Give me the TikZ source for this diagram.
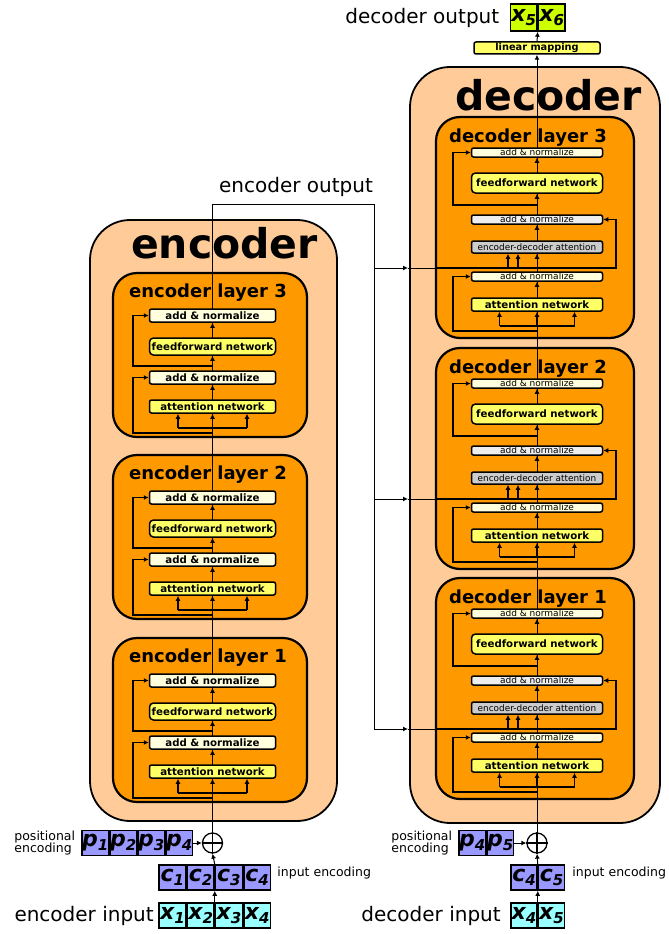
\documentclass[tikz,border=0pt]{standalone}
\usepackage{fontspec}
\setmainfont{DejaVu Sans}
\usepackage{tikz}
\usetikzlibrary{positioning,arrows.meta}

\definecolor{peach}{HTML}{FFCC99}
\definecolor{layerorange}{HTML}{FF9900}
\definecolor{boxyellow}{HTML}{FFFF66}
\definecolor{cream}{HTML}{FFFFDD}
\definecolor{palegray}{HTML}{EEEEEE}
\definecolor{boxgray}{HTML}{CCCCCC}
\definecolor{encblue}{HTML}{9999FF}
\definecolor{inputcyan}{HTML}{99FFFF}
\definecolor{outlime}{HTML}{CCFF00}

\newcommand{\fsz}[1]{\fontsize{#1}{#1}\selectfont}
\newcommand{\cellidx}[2]{\bfseries\itshape #1\raisebox{-4pt}{\fsz{15}#2}}

\tikzset{
	outerbox/.style={draw,line width=1.8pt,fill=peach,rounded corners=40pt},
	layerbox/.style={draw,line width=2.2pt,fill=layerorange,rounded corners=24pt},
	smallbox/.style={draw,line width=1.5pt,rounded corners=2pt,inner sep=0pt},
	encbox/.style={smallbox,minimum width=126pt,minimum height=13pt,font=\bfseries\fsz{10.2}},
	decbox/.style={smallbox,minimum width=131pt,minimum height=9pt,font=\fsz{9}},
	cell/.style={draw,line width=1.5pt,inner sep=0pt,minimum width=26.5pt,minimum height=25pt,font=\fsz{22}},
	side/.style={font=\fsz{12.5},align=left,inner sep=2pt},
	res/.style={line width=1.8pt},
	main/.style={line width=1pt},
	arr/.style={-{Latex[length=5pt,width=5pt]}}
}

\begin{document}
\begin{tikzpicture}[x=1pt,y=-1pt]
	\useasboundingbox (0,0) rectangle (669,934);
	\draw[outerbox] (90,220) rectangle (337,821);
	\draw[outerbox] (410,67) rectangle (660,823);
	\node[font=\bfseries\fsz{41},anchor=base] (enctitle) at (224.5,258) {encoder};
	\node[font=\bfseries\fsz{41},anchor=base] (dectitle) at (548.5,110) {decoder};

	\foreach \l/\t in {1/638,2/455,3/273}
	{ \draw[layerbox] (113,\t) rectangle (307,\t+164);
		\node[font=\bfseries\fsz{18},anchor=base] (elt\l) at (208,\t+24) {encoder layer \l};
	}
	\foreach \l/\t in {1/578,2/348,3/117}
	{ \draw[layerbox] (436,\t) rectangle (634,\t+221);
		\node[font=\bfseries\fsz{18},anchor=base] (dlt\l) at (528,\t+25) {decoder layer \l};
		\coordinate (ded\l) at (537,\t+151);
	}

	\node[circle,draw,line width=1.3pt,minimum size=20pt,inner sep=0pt] (eplus) at (212.5,843) {};
	\draw[line width=1.3pt] (eplus.north) -- (eplus.south) (eplus.west) -- (eplus.east);
	\node[cell,fill=encblue] (ep1) at (95.25,843) {\cellidx{p}{1}};
	\foreach \i [count=\j from 1] in {2,3,4}
		\node[cell,fill=encblue,right=0pt of ep\j] (ep\i) {\cellidx{p}{\i}};
	\node[cell,fill=encblue,minimum width=26.75pt] (ec1) at (172.4,877.5) {\cellidx{c}{1}};
	\node[cell,fill=inputcyan,minimum width=26.75pt] (ex1) at (172.4,915.5) {\cellidx{x}{1}};
	\foreach \i [count=\j from 1] in {2,3,4}
	{ \node[cell,fill=encblue,minimum width=26.75pt,right=0pt of ec\j] (ec\i) {\cellidx{c}{\i}};
		\node[cell,fill=inputcyan,minimum width=26.75pt,right=0pt of ex\j] (ex\i) {\cellidx{x}{\i}};
	}
	\draw[main,arr] (ep4) -- (eplus);
	\draw[main,arr] (ex2.north east) -- (ec2.south east);
	\draw[main,arr] (ec2.north east) -- (eplus.south);
	\node[side,left=4pt of ep1] (eposlabel) {positional\\encoding};
	\node[side,right=4pt of ec4,yshift=4pt] (eenclabel) {input encoding};
	\node[font=\fsz{20},left=1pt of ex1] (einlabel) {encoder input};

	\node[circle,draw,line width=1.3pt,minimum size=20pt,inner sep=0pt] (dplus) at (537,843) {};
	\draw[line width=1.3pt] (dplus.north) -- (dplus.south) (dplus.west) -- (dplus.east);
	\node[cell,fill=encblue] (dp4) at (472.25,843) {\cellidx{p}{4}};
	\node[cell,fill=encblue,right=0pt of dp4] (dp5) {\cellidx{p}{5}};
	\node[cell,fill=encblue,minimum width=26pt] (dc4) at (524,877.5) {\cellidx{c}{4}};
	\node[cell,fill=encblue,minimum width=26pt,right=0pt of dc4] (dc5) {\cellidx{c}{5}};
	\node[cell,fill=inputcyan,minimum width=26pt] (dx4) at (524,915.5) {\cellidx{x}{4}};
	\node[cell,fill=inputcyan,minimum width=26pt,right=0pt of dx4] (dx5) {\cellidx{x}{5}};
	\draw[main,arr] (dp5) -- (dplus);
	\draw[main,arr] (dx4.north east) -- (dc4.south east);
	\draw[main,arr] (dc4.north east) -- (dplus.south);
	\node[side,left=4pt of dp4] (dposlabel) {positional\\encoding};
	\node[side,right=5pt of dc5,yshift=4pt] (denclabel) {input encoding};
	\node[font=\fsz{20},left=6pt of dx4] (dinlabel) {decoder input};

	\node[smallbox,fill=boxyellow,minimum width=126pt,minimum height=12pt,font=\bfseries\fsz{9.8}] (lin) at (537,48) {linear mapping};
	\node[cell,fill=outlime,minimum height=27pt] (dy5) at (523.75,17.5) {\cellidx{x}{5}};
	\node[cell,fill=outlime,minimum height=27pt,right=0pt of dy5] (dy6) {\cellidx{x}{6}};
	\node[font=\fsz{20},left=7pt of dy5] (doutlabel) {decoder output};
	\draw[main,arr] (lin.north) -- (dy5.south east);

	\coordinate (eout) at (212.5,204);
	\coordinate (ebend) at (374,204);
	\node[font=\fsz{20}] (eoutlabel) at (296,187) {encoder output};
	\draw[main] (eplus.north) -- (eout) -- (ebend) -- (ebend |- ded1);
	\draw[main,arr] (dplus.north) -- (lin.south);
	\foreach \l in {1,2,3}
	{ \draw[main,arr] (ebend |- ded\l) -- ([xshift=-129pt]ded\l);
		\draw[main] ([xshift=-129pt]ded\l) -- ([xshift=-101pt]ded\l);
		\draw[res] ([xshift=-101pt]ded\l) -- (ded\l);
	}

	\foreach \l/\t in {1/638,2/455,3/273}
	{ \node[encbox,fill=cream] (ean1\l) at (212.5,\t+42.5) {add \& normalize};
		\node[encbox,fill=boxyellow,minimum height=17pt,rounded corners=4pt] (eff\l) at (212.5,\t+73.5) {feedforward network};
		\node[encbox,fill=cream] (ean2\l) at (212.5,\t+104.5) {add \& normalize};
		\node[encbox,fill=boxyellow] (eatt\l) at (212.5,\t+133.5) {attention network};
		\coordinate (ebot\l) at (212.5,\t+160);
		\coordinate (emid\l) at (212.5,\t+93);
		\coordinate (ein\l) at (212.5,\t+155);
		\draw[main,arr] (eatt\l) -- (ean2\l);
		\draw[main,arr] (ean2\l) -- (eff\l);
		\draw[main,arr] (eff\l) -- (ean1\l);
		\draw[res,arr] (ebot\l) -| ([xshift=-15.5pt]ean2\l.west) -- (ean2\l.west);
		\draw[res,arr] (emid\l) -| ([xshift=-15.5pt]ean1\l.west) -- (ean1\l.west);
		\draw[res] ([xshift=-34.5pt]ein\l) -- ([xshift=34.5pt]ein\l);
		\foreach \d in {-34.5,0,34.5}
			\draw[res,arr] ([xshift=\d pt]ein\l) -- ([xshift=\d pt]eatt\l.south);
	}

	\foreach \l/\t in {1/578,2/348,3/117}
	{ \node[decbox,fill=cream] (dan1\l) at (537,\t+35.5) {add \& normalize};
		\node[decbox,fill=boxyellow,minimum height=20pt,rounded corners=4pt,font=\bfseries\fsz{10.2}] (dff\l) at (537,\t+66) {feedforward network};
		\node[decbox,fill=palegray] (dan2\l) at (537,\t+102.5) {add \& normalize};
		\node[decbox,fill=boxgray,minimum height=12pt,font=\fsz{8.9}] (deda\l) at (537,\t+130) {encoder-decoder attention};
		\node[decbox,fill=cream] (dan3\l) at (537,\t+159.5) {add \& normalize};
		\node[decbox,fill=boxyellow,minimum height=13pt,font=\bfseries\fsz{10.2}] (datt\l) at (537,\t+187.5) {attention network};
		\coordinate (dbot\l) at (537,\t+214);
		\coordinate (dmid\l) at (537,\t+88);
		\coordinate (din\l) at (537,\t+209);
		\draw[main,arr] (datt\l) -- (dan3\l);
		\draw[main,arr] (dan3\l) -- (deda\l);
		\draw[main,arr] (deda\l) -- (dan2\l);
		\draw[main,arr] (dan2\l) -- (dff\l);
		\draw[main,arr] (dff\l) -- (dan1\l);
		\draw[res,arr] (dbot\l) -| ([xshift=-17.5pt]dan3\l.west) -- (dan3\l.west);
		\draw[res,arr] (dmid\l) -| ([xshift=-17.5pt]dan1\l.west) -- (dan1\l.west);
		\draw[res,arr] (ded\l) -| ([xshift=12.5pt]dan2\l.east) -- (dan2\l.east);
		\foreach \d in {-29,-19}
			\draw[res,arr] ([xshift=\d pt]ded\l) -- ([xshift=\d pt]deda\l.south);
		\draw[res] ([xshift=-37.5pt]din\l) -- ([xshift=37.5pt]din\l);
		\foreach \d in {-37.5,0,37.5}
			\draw[res,arr] ([xshift=\d pt]din\l) -- ([xshift=\d pt]datt\l.south);
	}
\end{tikzpicture}
\end{document}
